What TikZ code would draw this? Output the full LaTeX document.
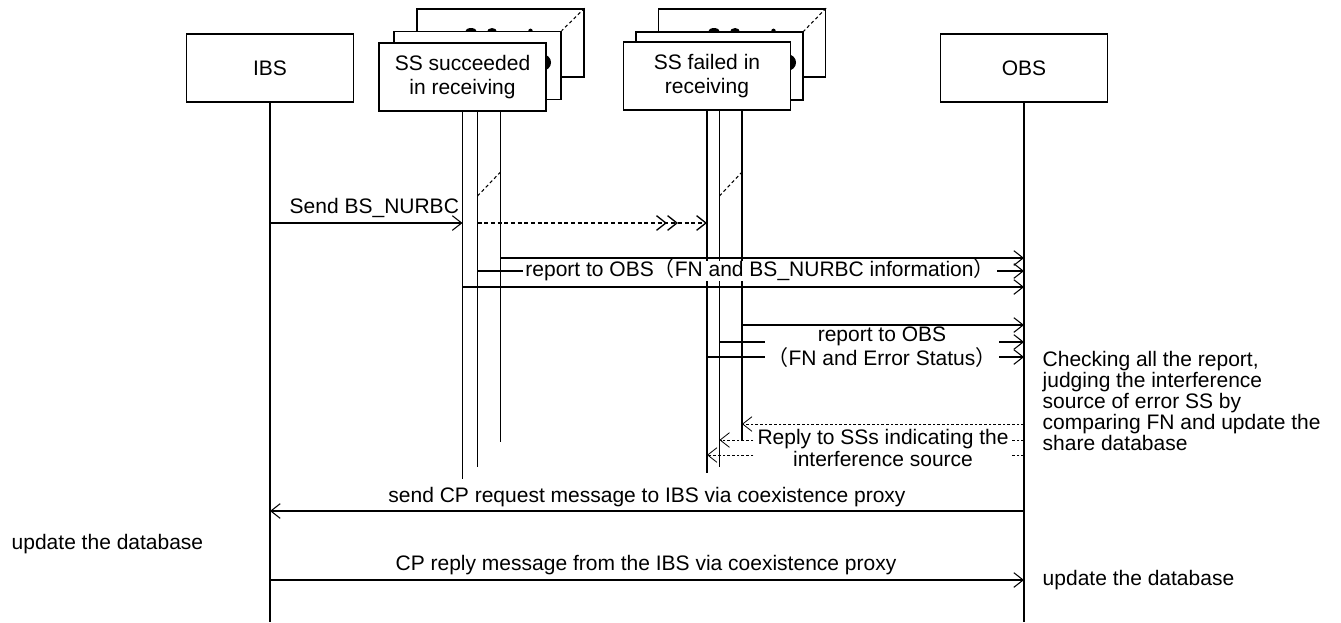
\documentclass[tikz,border=0pt]{standalone}
\usepackage{fontspec}
\setmainfont{Liberation Sans}
\newfontfamily\cjkfont{Noto Sans CJK SC}
\usetikzlibrary{arrows.meta}
\pgfdeclarelayer{bg}
\pgfsetlayers{bg,main}
\newcommand{\fwlp}{{\cjkfont （}}
\newcommand{\fwrp}{{\cjkfont ）}}
\begin{document}
\begin{tikzpicture}[x=0.75pt, y=-0.75pt,
  font=\fontsize{15.75pt}{18.5pt}\selectfont,
  box/.style={draw, line width=1.2pt, fill=white, minimum width=125pt, minimum height=51pt, inner sep=0pt, align=center},
  life/.style={line width=1.2pt},
  msg/.style={line width=0.8pt},
  tip/.style={-{Straight Barb[length=7pt,width=11pt]}},
  dsh/.style={line width=1pt, dash pattern=on 3pt off 2pt},
  rep/.style={line width=0.6pt, dash pattern=on 2pt off 1.5pt},
  persp/.style={line width=0.8pt, dash pattern=on 2.5pt off 2pt},
  lbl/.style={fill=white, inner xsep=2pt, inner ysep=0pt, text height=11.5pt, text depth=3.5pt},
  lblm/.style={fill=white, inner xsep=2pt, inner ysep=-1.5pt, align=center},
  blob/.style={fill=black}
]
\useasboundingbox (0,0) rectangle (1341,622);

% main actors
\node[box] (ibs) at (270,68) {IBS};
\node[box] (obs) at (1024,68) {OBS};

% success stack
\node[box] (s3) at (500.5,43) {};
\fill[blob] (471,32) ellipse [x radius=6, y radius=4];
\fill[blob] (492,32) ellipse [x radius=5, y radius=4];
\fill[blob] (530.5,32) ellipse [x radius=2.5, y radius=3.5];
\node[box] (s2) at (477.5,65.5) {};
\fill[blob] (543,62.5) ellipse [x radius=8, y radius=8];
\node[box] (s1) at (462.5,77) {SS succeeded\\in receiving};
\draw[persp] (s3.north east) -- (s2.north east);

% failed stack
\node[box] (f3) at (742,43) {};
\fill[blob] (714,32) ellipse [x radius=6, y radius=4];
\fill[blob] (735,32) ellipse [x radius=5, y radius=4];
\fill[blob] (773.5,32) ellipse [x radius=2.5, y radius=3.5];
\node[box] (f2) at (719.5,66) {};
\fill[blob] (788,62.5) ellipse [x radius=8, y radius=8];
\node[box] (f1) at (707,76) {SS failed in\\receiving};
\draw[persp] (f3.north east) -- (f2.north east);

\begin{pgfonlayer}{bg}
  % lifelines
  \draw[life] (ibs.south) -- (ibs.south |- 0,622);
  \draw[life] (obs.south) -- (obs.south |- 0,622);
  \draw[life] (s1.south) -- (s1.south |- 0,479);
  \draw[life] (s2.south) -- (s2.south |- 0,467);
  \draw[life] (s3.south) -- (s3.south |- 0,442);
  \draw[life] (f1.south) -- (f1.south |- 0,473);
  \draw[life] (f2.south) -- (f2.south |- 0,467);
  \draw[life] (f3.south) -- (f3.south |- 0,441);
  % perspective marks on lifelines
  \draw[persp] (s2.south |- 0,196) -- (s3.south |- 0,172);
  \draw[persp] (f2.south |- 0,196) -- (f3.south |- 0,172);

  % Send BS_NURBC
  \draw[msg, tip] (ibs.south |- 0,223) -- (s1.south |- 0,223);
  \coordinate (dd) at (678,223);
  \draw[dsh, -{Straight Barb[length=7pt,width=11pt] Straight Barb[length=7pt,width=11pt]}] (s2.south |- dd) -- (dd);
  \draw[dsh, tip] (dd) -- (f1.south |- dd);

  % reports from successful SSs
  \draw[msg, tip] (s3.south |- 0,258) -- (obs.south |- 0,258);
  \draw[msg, tip] (s2.south |- 0,271) -- (obs.south |- 0,271);
  \draw[msg, tip] (s1.south |- 0,287) -- (obs.south |- 0,287);

  % reports from failed SSs
  \draw[msg, tip] (f3.south |- 0,325) -- (obs.south |- 0,325);
  \draw[msg, tip] (f2.south |- 0,342) -- (obs.south |- 0,342);
  \draw[msg, tip] (f1.south |- 0,357) -- (obs.south |- 0,357);

  % replies
  \draw[rep, tip] (obs.south |- 0,424) -- (f3.south |- 0,424);
  \draw[rep, tip] (obs.south |- 0,440) -- (f2.south |- 0,440);
  \draw[rep, tip] (obs.south |- 0,455) -- (f1.south |- 0,455);

  % CP messages
  \draw[msg, tip] (obs.south |- 0,511) -- (ibs.south |- 0,511);
  \draw[msg, tip] (ibs.south |- 0,580) -- (obs.south |- 0,580);
\end{pgfonlayer}

% labels
\node[anchor=west] (l1) at (285,208) {Send BS\_NURBC};
\node[lbl] (l2) at (760,271) {report to OBS\fwlp FN and BS\_NURBC information\fwrp};
\node[lblm, font=\fontsize{15.75pt}{15.5pt}\selectfont] (l3) at (882,347) {report to OBS\\\fwlp FN and Error Status\fwrp};
\node[lblm, inner ysep=0pt, font=\fontsize{15.75pt}{16.5pt}\selectfont] (l4) at (883,448) {Reply to SSs indicating the\\interference source};
\node (l5) at (647,497) {send CP request message to IBS via coexistence proxy};
\node (l6) at (646,565) {CP reply message from the IBS via coexistence proxy};
\node[anchor=west] (u1) at (7,544) {update the database};
\node[anchor=west] (u2) at (1038,580) {update the database};
\node[anchor=north west, align=left, font=\fontsize{15.75pt}{15.6pt}\selectfont] (note) at (1038,347)
  {Checking all the report,\\judging the interference\\source of error SS by\\comparing FN and update the\\share database};
\end{tikzpicture}
\end{document}
